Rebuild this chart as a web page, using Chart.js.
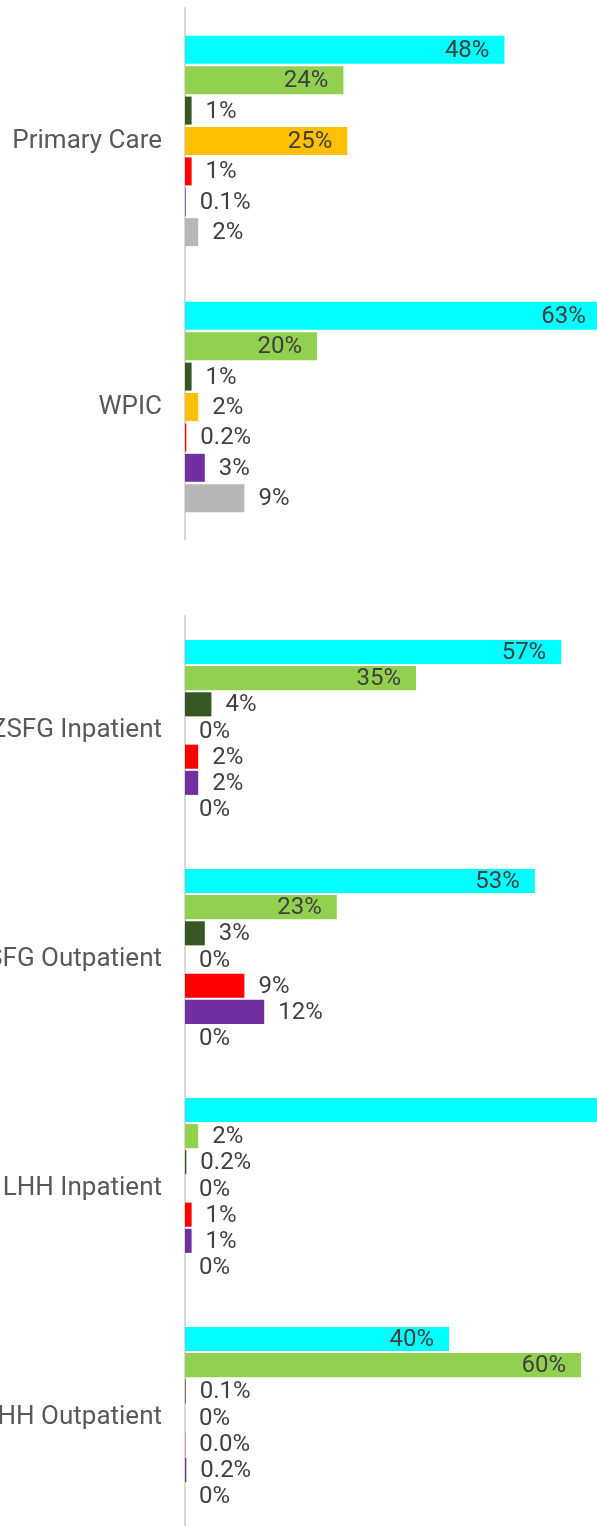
<!DOCTYPE html>
<html lang="en">
<head>
  <meta charset="UTF-8">
  <title>Distribution by site</title>
  <script src="https://cdn.jsdelivr.net/npm/chart.js"></script>
  <style>
    body { margin: 0; overflow: hidden; background: #fff; }
    .wrap { position: relative; width: 597px; height: 1526px; overflow: hidden; }
    #topChart { position: absolute; left: 0; top: 0; }
    #bottomChart { position: absolute; left: 0; top: 600px; }
  </style>
</head>
<body>
<div class="wrap">
  <canvas id="topChart" width="870" height="540"></canvas>
  <canvas id="bottomChart" width="870" height="932"></canvas>
</div>

<script>
  // categories
  const topSites = ['Primary Care', 'WPIC'];
  const bottomSites = ['ZSFG Inpatient', 'ZSFG Outpatient', 'LHH Inpatient', 'LHH Outpatient'];

  // series colours (same order in both charts, top to bottom in each group)
  const seriesNames = ['Series 1', 'Series 2', 'Series 3', 'Series 4', 'Series 5', 'Series 6', 'Series 7'];
  const seriesColors = ['#00FFFF', '#92D050', '#375623', '#FFC000', '#FF0000', '#7030A0', '#B7B7B7'];

  // percent values, one array per series: [Primary Care, WPIC]
  const topS1 = [48.4, 63];
  const topS2 = [24, 20];
  const topS3 = [1, 1];
  const topS4 = [24.6, 2];
  const topS5 = [1, 0.2];
  const topS6 = [0.1, 3];
  const topS7 = [2, 9];

  // [ZSFG Inpatient, ZSFG Outpatient, LHH Inpatient, LHH Outpatient]
  const botS1 = [57, 53, 96, 40];
  const botS2 = [35, 23, 2, 60];
  const botS3 = [4, 3, 0.2, 0.1];
  const botS4 = [0, 0, 0, 0];
  const botS5 = [2, 9, 1, 0.04];
  const botS6 = [2, 12, 1, 0.2];
  const botS7 = [0, 0, 0, 0];

  const FONT = 'Roboto, sans-serif';

  function fmt(v) {
    if (v === 0) return '0%';
    if (v < 1) return v.toFixed(1) + '%';
    return Math.round(v) + '%';
  }

  // draws value labels: inside the end for long bars, just after the end for short ones
  const barLabels = {
    id: 'barLabels',
    afterDatasetsDraw(chart) {
      const ctx = chart.ctx;
      ctx.save();
      ctx.font = '24px ' + FONT;
      ctx.fillStyle = '#404040';
      ctx.textBaseline = 'middle';
      chart.data.datasets.forEach((ds, i) => {
        chart.getDatasetMeta(i).data.forEach((bar, j) => {
          const v = ds.data[j];
          if (v >= 15) {
            ctx.textAlign = 'right';
            ctx.fillText(fmt(v), bar.x - 15, bar.y + 1);
          } else {
            ctx.textAlign = 'left';
            ctx.fillText(fmt(v), bar.x + 14, bar.y + 1);
          }
        });
      });
      ctx.restore();
    }
  };

  function makeChart(id, labels, series, padTop) {
    new Chart(document.getElementById(id), {
      type: 'bar',
      data: {
        labels: labels,
        datasets: series.map((d, i) => ({
          label: seriesNames[i],
          data: d,
          backgroundColor: seriesColors[i],
          categoryPercentage: 0.8,
          barPercentage: 0.92
        }))
      },
      options: {
        indexAxis: 'y',
        responsive: false,
        animation: false,
        layout: { padding: { top: padTop, right: 25, bottom: 0, left: 0 } },
        plugins: { legend: { display: false }, tooltip: { enabled: false } },
        scales: {
          x: { display: false, min: 0, max: 100 },
          y: {
            grid: { display: false, drawTicks: false },
            border: { display: true, color: '#D9D9D9', width: 2 },
            ticks: { color: '#595959', font: { family: FONT, size: 26 }, padding: 23 },
            afterFit: (scale) => {
              scale.width = 185;
              scale.paddingTop = 0;
              scale.paddingBottom = 0;
            }
          }
        }
      },
      plugins: [barLabels]
    });
  }

  makeChart('topChart', topSites, [topS1, topS2, topS3, topS4, topS5, topS6, topS7], 8);
  makeChart('bottomChart', bottomSites, [botS1, botS2, botS3, botS4, botS5, botS6, botS7], 16);
</script>
</body>
</html>
